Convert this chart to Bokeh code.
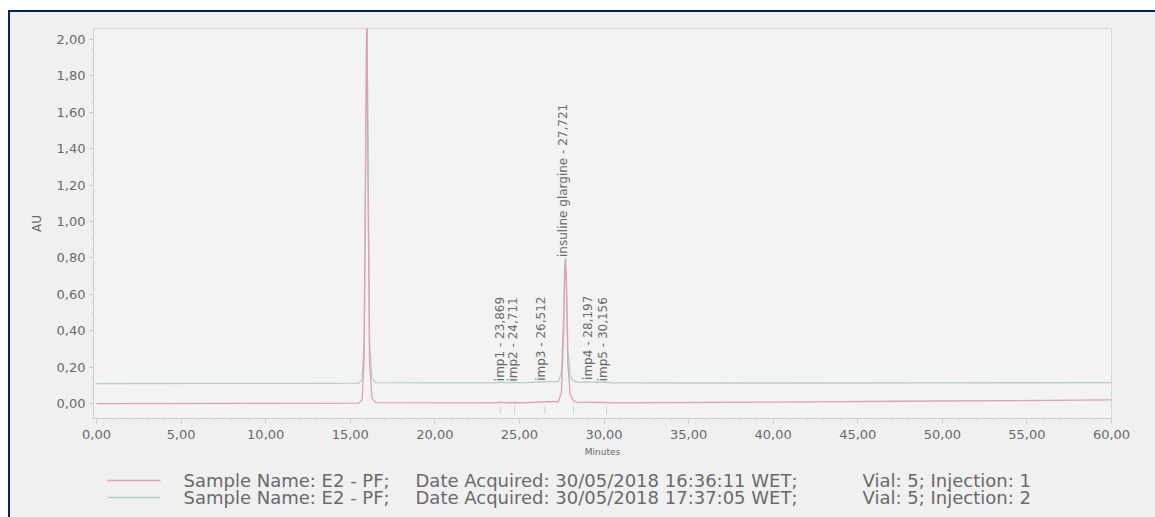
import numpy as np
from bokeh.plotting import figure
from bokeh.layouts import column
from bokeh.models import (ColumnDataSource, FixedTicker, CustomJSTickFormatter, Range1d)
from bokeh.core.properties import value
from bokeh.embed import file_html
from bokeh.resources import INLINE

# ---- chromatogram traces (time in minutes, absorbance in AU) ----
inj1_time = [0.00, 10.00, 15.50, 15.70, 15.82, 15.90, 15.98, 16.06, 16.14, 16.28, 16.50,
             23.60, 23.869, 24.20, 24.711, 25.10, 26.512, 27.30, 27.48, 27.60, 27.68,
             27.721, 27.78, 27.86, 28.00, 28.197, 28.40, 30.156, 30.50, 40.00, 50.00, 60.00]
inj1_au = [0.000, 0.001, 0.002, 0.020, 0.250, 1.200, 2.250, 1.100, 0.220, 0.030, 0.005,
           0.004, 0.008, 0.004, 0.006, 0.004, 0.010, 0.010, 0.060, 0.350, 0.720,
           0.790, 0.620, 0.220, 0.050, 0.015, 0.008, 0.006, 0.004, 0.008, 0.014, 0.020]

inj2_time = [0.00, 10.00, 15.50, 15.70, 15.82, 15.90, 15.98, 16.06, 16.14, 16.28, 16.50,
             23.60, 23.869, 24.20, 24.711, 25.10, 26.512, 27.30, 27.48, 27.60, 27.68,
             27.721, 27.78, 27.86, 28.00, 28.197, 28.40, 30.156, 30.50, 40.00, 50.00, 60.00]
inj2_au = [0.110, 0.111, 0.112, 0.130, 0.360, 1.300, 2.200, 1.200, 0.330, 0.140, 0.115,
           0.114, 0.118, 0.114, 0.116, 0.114, 0.120, 0.120, 0.170, 0.440, 0.760,
           0.800, 0.680, 0.300, 0.150, 0.125, 0.118, 0.117, 0.114, 0.113, 0.114, 0.115]

# ---- integrated peaks ----
peak_names = ["imp1", "imp2", "imp3", "insuline glargine", "imp4", "imp5"]
peak_times = [23.869, 24.711, 26.512, 27.721, 28.197, 30.156]

# ---- axes ----
x_ticks = [0, 5, 10, 15, 20, 25, 30, 35, 40, 45, 50, 55, 60]
y_ticks = [0.0, 0.2, 0.4, 0.6, 0.8, 1.0, 1.2, 1.4, 1.6, 1.8, 2.0]

# ---- legend rows ----
legend_sample = ["Sample Name: E2 - PF;", "Sample Name: E2 - PF;"]
legend_date = ["Date Acquired: 30/05/2018 16:36:11 WET;",
               "Date Acquired: 30/05/2018 17:37:05 WET;"]
legend_vial = ["Vial: 5; Injection: 1", "Vial: 5; Injection: 2"]

RED = "#dca4ab"
GREEN = "#b3cec6"
TXT = "#6a6a6a"
FONT = "DejaVu Sans"
NAVY = "#0b1f5e"
BG = "#f0f0f0"

W = 1145

p = figure(width=W, height=456, output_backend="svg", toolbar_location=None,
           x_range=Range1d(-0.18, 60.0), y_range=Range1d(-0.082, 2.06),
           min_border_left=83, min_border_right=44, min_border_top=16,
           min_border_bottom=50)
p.border_fill_color = BG
p.background_fill_color = "#f3f3f3"
p.outline_line_color = "#d6d6d6"
p.grid.visible = False

# traces
p.line(inj2_time, inj2_au, line_color=GREEN, line_width=1.3)
p.line(inj1_time, inj1_au, line_color=RED, line_width=1.3)

# integration marks under the impurity peaks
imp_t = [t for n, t in zip(peak_names, peak_times) if n.startswith("imp")]
p.segment(x0=imp_t, y0=[-0.015] * len(imp_t), x1=imp_t, y1=[-0.06] * len(imp_t),
          line_color="#cfcfcf", line_width=1)

# peak labels, vertical, starting at the trace
inj2_at = np.interp(peak_times, inj2_time, inj2_au)
label_src = ColumnDataSource(dict(
    x=peak_times,
    y=list(inj2_at + 0.005),
    text=[f"{n} - {t:.3f}".replace(".", ",") for n, t in zip(peak_names, peak_times)],
    dx=[0, -2, -4, -2, 14, -4],
))
p.text(x="x", y="y", text="text", x_offset="dx", source=label_src, angle=np.pi / 2,
       text_align="left", text_baseline="middle", text_font=value(FONT),
       text_font_size="12px", text_color=TXT)

# axes
fmt = CustomJSTickFormatter(code="return tick.toFixed(2).replace('.', ',');")
for ax in (p.xaxis[0], p.yaxis[0]):
    ax.formatter = fmt
    ax.axis_line_color = "#cdcdcd"
    ax.major_tick_line_color = "#c4c4c4"
    ax.minor_tick_line_color = "#d4d4d4"
    ax.major_label_text_color = TXT
    ax.major_label_text_font = FONT
    ax.major_label_text_font_size = "13px"
    ax.axis_label_text_color = TXT
    ax.axis_label_text_font = FONT
    ax.axis_label_text_font_style = "normal"

p.xaxis.ticker = FixedTicker(ticks=x_ticks, minor_ticks=list(np.arange(0, 60.5, 1.0)))
p.yaxis.ticker = FixedTicker(ticks=y_ticks, minor_ticks=list(np.arange(0, 2.05, 0.05)))
p.xaxis.major_tick_out = 5
p.xaxis.major_tick_in = 0
p.xaxis.minor_tick_out = 2
p.xaxis.minor_tick_in = 0
p.xaxis.major_label_standoff = 6
p.xaxis.axis_label = "Minutes"
p.xaxis.axis_label_text_font_size = "9px"
p.xaxis.axis_label_standoff = 5
p.yaxis.major_tick_out = 4
p.yaxis.major_tick_in = 0
p.yaxis.minor_tick_out = 2
p.yaxis.minor_tick_in = 0
p.yaxis.major_label_standoff = 4
p.yaxis.axis_label = "AU"
p.yaxis.axis_label_text_font_size = "12px"
p.yaxis.axis_label_standoff = 10

# ---- legend strip under the chart ----
# its frame lines up with the chart frame, so x runs in page pixels 93..1111
LH = 49
leg = figure(width=W, height=LH, output_backend="svg", toolbar_location=None,
             x_range=Range1d(93, 1111), y_range=Range1d(LH, 0),
             min_border=0, min_border_top=0, min_border_bottom=0)
leg.axis.visible = False
leg.grid.visible = False
leg.outline_line_color = None
leg.border_fill_color = BG
leg.background_fill_color = BG

row_y = [12, 29]
leg.segment(x0=[107, 107], y0=row_y, x1=[160, 160], y1=row_y,
            line_color=[RED, GREEN], line_width=1.3)
for texts, tx in ((legend_sample, 183), (legend_date, 415), (legend_vial, 862)):
    leg.text(x=[tx, tx], y=row_y, text=texts, text_align="left",
             text_baseline="middle", text_font=value(FONT),
             text_font_size="18px", text_color=TXT)

page = column(p, leg, spacing=0, margin=(10, 0, 0, 8),
              styles={"border-top": f"2px solid {NAVY}",
                      "border-left": f"2px solid {NAVY}",
                      "background-color": BG})

open("out.html", "w").write(file_html(page, INLINE))
